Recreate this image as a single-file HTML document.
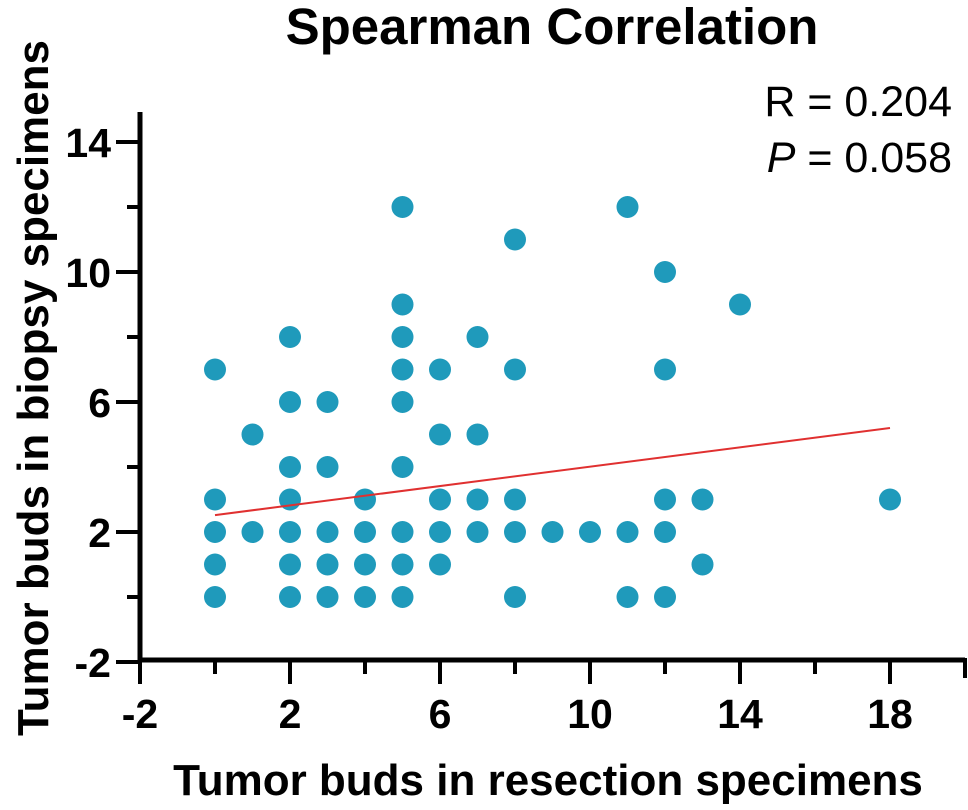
<!DOCTYPE html>
<html><head><meta charset="utf-8"><style>
body{margin:0;background:#fff}
svg{display:block;font-family:"Liberation Sans",Arial,sans-serif}
</style></head><body>
<svg id="chart" width="968" height="810" viewBox="0 0 968 810">
<text x="552" y="44" text-anchor="middle" font-size="51" font-weight="bold">Spearman Correlation</text>
<text x="952" y="116" text-anchor="end" font-size="43">R = 0.204</text>
<text x="952" y="172" text-anchor="end" font-size="43"><tspan font-style="italic">P</tspan> = 0.058</text>
<text transform="translate(48,388) rotate(-90)" text-anchor="middle" font-size="44" font-weight="bold">Tumor buds in biopsy specimens</text>
<text x="548" y="795" text-anchor="middle" font-size="44" font-weight="bold">Tumor buds in resection specimens</text>
<g id="axes"></g>
<g id="marks"></g>
</svg>
<script>
const xs=[0,0,0,0,0,1,1,2,2,2,2,2,2,2,3,3,3,3,3,4,4,4,4,5,5,5,5,5,5,5,5,5,6,6,6,6,6,7,7,7,7,8,8,8,8,8,9,10,11,11,11,12,12,12,12,12,13,13,14,18];
const ys=[7,3,2,1,0,5,2,8,6,4,3,2,1,0,6,4,2,1,0,3,2,1,0,12,9,8,7,6,4,2,1,0,7,5,3,2,1,8,5,3,2,11,7,3,2,0,2,2,12,2,0,10,7,3,2,0,3,1,9,3];
const xTicks=[-2,2,6,10,14,18];
const xMinor=[0,4,8,12,16];
const yTicks=[-2,2,6,10,14];
const yMinor=[0,4,8,12];
const fitStart=[0,2.52];
const fitEnd=[18,5.2];
const X=v=>215+v*37.5, Y=v=>597-v*32.5;
const NS="http://www.w3.org/2000/svg";
const ax=document.getElementById('axes'), mk=document.getElementById('marks');
function mkEl(t,a,p){const e=document.createElementNS(NS,t);for(const k in a)e.setAttribute(k,a[k]);p.appendChild(e);return e;}
const xa=mkEl('line',{x1:140,y1:660,x2:965,y2:660,stroke:'#000','stroke-width':5},ax);


const ya=mkEl('line',{x1:140,y1:112,x2:140,y2:662,stroke:'#000','stroke-width':5},ax);


mkEl('line',{x1:965,y1:658,x2:965,y2:678,stroke:'#000','stroke-width':4},ax);
xTicks.forEach(v=>{mkEl('line',{x1:X(v),y1:660,x2:X(v),y2:684,stroke:'#000','stroke-width':4},ax);
const t=mkEl('text',{x:X(v),y:728,'text-anchor':'middle','font-size':41,'font-weight':'bold'},ax);t.textContent=v;

});
xMinor.forEach(v=>mkEl('line',{x1:X(v),y1:660,x2:X(v),y2:674,stroke:'#000','stroke-width':4},ax));
yTicks.forEach(v=>{mkEl('line',{x1:116,y1:Y(v),x2:140,y2:Y(v),stroke:'#000','stroke-width':4},ax);
const t=mkEl('text',{x:111,y:Y(v)+15,'text-anchor':'end','font-size':41,'font-weight':'bold'},ax);t.textContent=v;

});
yMinor.forEach(v=>mkEl('line',{x1:127,y1:Y(v),x2:140,y2:Y(v),stroke:'#000','stroke-width':4},ax));
xs.forEach((x,i)=>{const c=mkEl('circle',{cx:X(x),cy:Y(ys[i]),r:11,fill:'#1f9abb'},mk);

});
const fl=mkEl('line',{x1:X(fitStart[0]),y1:Y(fitStart[1]),x2:X(fitEnd[0]),y2:Y(fitEnd[1]),stroke:'#e03030','stroke-width':2},mk);


</script>
</body></html>
